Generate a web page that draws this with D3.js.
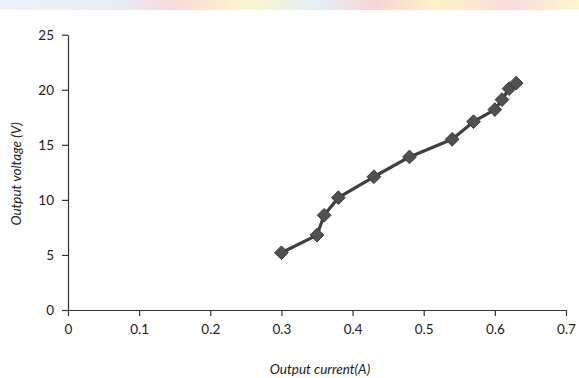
<!DOCTYPE html>
<html><head><meta charset="utf-8">
<script src="https://cdn.jsdelivr.net/npm/d3@7"></script>
<style>
html,body{margin:0;padding:0;background:#fff;}
svg{display:block;}
text{font-family:Lato,"Open Sans",sans-serif;fill:#222;}
</style></head>
<body>
<svg id="chart" width="579" height="378"></svg>
<script>
const current = [0.30, 0.35, 0.36, 0.38, 0.43, 0.48, 0.54, 0.57, 0.60, 0.61, 0.62, 0.63];
const voltage = [5.2, 6.8, 8.6, 10.2, 12.1, 13.9, 15.5, 17.1, 18.2, 19.1, 20.1, 20.6];
const xTicks = [0, 0.1, 0.2, 0.3, 0.4, 0.5, 0.6, 0.7];
const yTicks = [0, 5, 10, 15, 20, 25];
const xTitle = "Output current(A)";
const yTitle = "Output voltage (V)";

const svg = d3.select("#chart");

// faint banner remnant at top
const grad = svg.append("defs").append("linearGradient").attr("id","banner");
[["0%","#e8eef8"],["20%","#dfe8f5"],["30%","#f7d0d0"],["42%","#fbf2c0"],["55%","#dde9f6"],["65%","#f6c9c9"],["75%","#fbf0b8"],["88%","#f7d3d3"],["100%","#fbf4c4"]]
  .forEach(([o,c])=>grad.append("stop").attr("offset",o).attr("stop-color",c));
svg.append("rect").attr("x",0).attr("y",0).attr("width",579).attr("height",10)
  .attr("fill","url(#banner)").attr("opacity",0.8);

const x = d3.scaleLinear().domain([0, 0.7]).range([68, 566]);
const y = d3.scaleLinear().domain([0, 25]).range([310, 34.7]);

const xAxis = svg.append("g").attr("transform","translate(0,310)")
  .call(d3.axisBottom(x).tickValues(xTicks).tickSize(6).tickSizeOuter(0).tickFormat(d=>d===0?"0":d3.format(".1f")(d)));
const yAxis = svg.append("g").attr("transform","translate(68,0)")
  .call(d3.axisLeft(y).tickValues(yTicks).tickSize(6).tickSizeOuter(0));
[xAxis,yAxis].forEach(g=>{
  g.select(".domain").attr("stroke","#333").attr("stroke-width",1.2);
  g.selectAll(".tick line").attr("stroke","#333").attr("stroke-width",1.2);
  g.selectAll(".tick text").style("font-family","Lato, 'Open Sans', sans-serif").attr("font-size",13.5).attr("fill","#222");
});
xAxis.selectAll(".tick text").attr("y",14).attr("dy","0.71em");
yAxis.selectAll(".tick text").attr("x",-14);

const pts = current.map((c,i)=>({c, v: voltage[i]}));
svg.append("path").datum(pts)
  .attr("fill","none").attr("stroke","#3f3f3f").attr("stroke-width",3.2)
  .attr("stroke-linejoin","round")
  .attr("d", d3.line().x(d=>x(d.c)).y(d=>y(d.v)));

svg.append("g").selectAll("path").data(pts).join("path")
  .attr("transform", d=>`translate(${x(d.c)},${y(d.v)})`)
  .attr("d", d3.symbol(d3.symbolDiamond2, 120))
  .attr("fill","#505050").attr("stroke","#3a3a3a").attr("stroke-width",1);

svg.append("text").attr("x",320).attr("y",374).attr("text-anchor","middle")
  .attr("font-size",13.5).attr("font-style","italic").text(xTitle);
svg.append("text").attr("transform","translate(21,174) rotate(-90)").attr("text-anchor","middle")
  .attr("font-size",13.5).attr("font-style","italic").text(yTitle);
</script>
</body></html>
